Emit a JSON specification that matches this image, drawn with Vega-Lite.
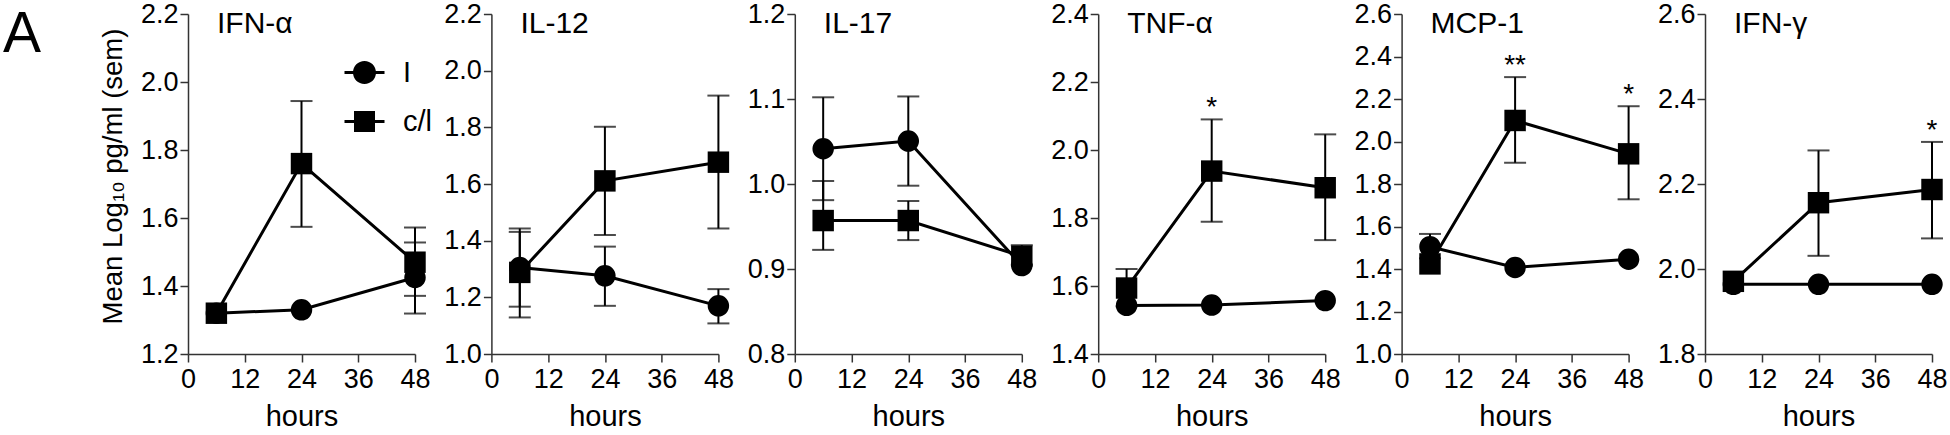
{
"$schema":"https://vega.github.io/schema/vega-lite/v6.json",
"autosize":{"type":"pad"},
"padding":{"left":3,"top":0,"right":0,"bottom":0},
"bounds":"flush",
"spacing":76.4,
"title":{"text":"A","anchor":"start","frame":"group","fontSize":57,"fontWeight":"normal","font":"Liberation Sans","color":"black","baseline":"alphabetic","offset":0,"dx":-185,"dy":109},
"data":{"values":[
{"cytokine":"IFN-α","group":"I","hours":6,"mean":1.32},
{"cytokine":"IFN-α","group":"I","hours":24,"mean":1.33},
{"cytokine":"IFN-α","group":"I","hours":48,"mean":1.425,"lo":1.319,"hi":1.528},
{"cytokine":"IFN-α","group":"c/l","hours":6,"mean":1.32},
{"cytokine":"IFN-α","group":"c/l","hours":24,"mean":1.76,"lo":1.574,"hi":1.944},
{"cytokine":"IFN-α","group":"c/l","hours":48,"mean":1.47,"lo":1.371,"hi":1.572},
{"cytokine":"IL-12","group":"I","hours":6,"mean":1.305,"lo":1.167,"hi":1.443},
{"cytokine":"IL-12","group":"I","hours":24,"mean":1.276,"lo":1.17,"hi":1.379},
{"cytokine":"IL-12","group":"I","hours":48,"mean":1.17,"lo":1.108,"hi":1.229},
{"cytokine":"IL-12","group":"c/l","hours":6,"mean":1.288,"lo":1.129,"hi":1.431},
{"cytokine":"IL-12","group":"c/l","hours":24,"mean":1.611,"lo":1.42,"hi":1.802},
{"cytokine":"IL-12","group":"c/l","hours":48,"mean":1.677,"lo":1.443,"hi":1.912},
{"cytokine":"IL-17","group":"I","hours":6,"mean":1.0415,"lo":0.981,"hi":1.102},
{"cytokine":"IL-17","group":"I","hours":24,"mean":1.0505,"lo":0.998,"hi":1.103},
{"cytokine":"IL-17","group":"I","hours":48,"mean":0.904},
{"cytokine":"IL-17","group":"c/l","hours":6,"mean":0.957,"lo":0.9225,"hi":1.0035},
{"cytokine":"IL-17","group":"c/l","hours":24,"mean":0.957,"lo":0.934,"hi":0.98},
{"cytokine":"IL-17","group":"c/l","hours":48,"mean":0.915,"lo":0.905,"hi":0.928},
{"cytokine":"TNF-α","group":"I","hours":6,"mean":1.543},
{"cytokine":"TNF-α","group":"I","hours":24,"mean":1.544},
{"cytokine":"TNF-α","group":"I","hours":48,"mean":1.557},
{"cytokine":"TNF-α","group":"c/l","hours":6,"mean":1.594,"lo":1.54,"hi":1.65},
{"cytokine":"TNF-α","group":"c/l","hours":24,"mean":1.938,"lo":1.789,"hi":2.09,"sig":"*"},
{"cytokine":"TNF-α","group":"c/l","hours":48,"mean":1.889,"lo":1.735,"hi":2.046},
{"cytokine":"MCP-1","group":"I","hours":6,"mean":1.505,"lo":1.45,"hi":1.565},
{"cytokine":"MCP-1","group":"I","hours":24,"mean":1.407},
{"cytokine":"MCP-1","group":"I","hours":48,"mean":1.446},
{"cytokine":"MCP-1","group":"c/l","hours":6,"mean":1.424},
{"cytokine":"MCP-1","group":"c/l","hours":24,"mean":2.099,"lo":1.9,"hi":2.303,"sig":"**"},
{"cytokine":"MCP-1","group":"c/l","hours":48,"mean":1.942,"lo":1.728,"hi":2.166,"sig":"*"},
{"cytokine":"IFN-γ","group":"I","hours":6,"mean":1.964},
{"cytokine":"IFN-γ","group":"I","hours":24,"mean":1.964},
{"cytokine":"IFN-γ","group":"I","hours":48,"mean":1.964},
{"cytokine":"IFN-γ","group":"c/l","hours":6,"mean":1.971},
{"cytokine":"IFN-γ","group":"c/l","hours":24,"mean":2.156,"lo":2.031,"hi":2.279},
{"cytokine":"IFN-γ","group":"c/l","hours":48,"mean":2.187,"lo":2.072,"hi":2.299,"sig":"*"}
]},
"resolve":{"scale":{"shape":"independent"},"legend":{"shape":"independent"}},
"hconcat":[
{"width":227,"height":340,
 "title":{"text":"IFN-α","anchor":"start","frame":"group","dx":29,"dy":41,"offset":-22,"fontSize":30,"fontWeight":"normal","font":"Liberation Sans","color":"black","baseline":"alphabetic"},
 "transform":[{"filter":"datum.cytokine === 'IFN-α'"}],
 "resolve":{"scale":{"shape":"independent"},"legend":{"shape":"independent"}},
 "encoding":{
  "x":{"field":"hours","type":"quantitative","scale":{"domain":[0,48],"nice":false},"axis":{"values":[0,12,24,36,48],"title":"hours"}},
  "y":{"field":"mean","type":"quantitative","scale":{"domain":[1.2,2.2],"nice":false,"zero":false},"axis":{"values":[1.2,1.4,1.6,1.8,2.0,2.2],"format":".1f","title":"Mean Log₁₀ pg/ml (sem)","titlePadding":13,"titleFontSize":27.5,"titleLimit":0,"titleY":162}}},
 "layer":[
  {"transform":[{"filter":"isValid(datum.lo)"}],"mark":{"type":"rule","color":"black","strokeWidth":2},"encoding":{"y":{"field":"lo","type":"quantitative"},"y2":{"field":"hi"}}},
  {"transform":[{"filter":"isValid(datum.lo)"},{"fold":["lo","hi"],"as":["end","val"]}],"mark":{"type":"tick","orient":"horizontal","color":"black","size":22,"thickness":2},"encoding":{"y":{"field":"val","type":"quantitative"}}},
  {"mark":{"type":"line","color":"black","strokeWidth":3},"encoding":{"detail":{"field":"group"}}},
  {"mark":{"type":"point","filled":true,"opacity":1,"color":"black","size":460,"strokeWidth":0},"encoding":{"shape":{"field":"group","type":"nominal","scale":{"domain":["I","c/l"],"range":["circle","square"]},"legend":null}}},
  {"mark":{"type":"point","filled":true,"color":"black","size":0,"strokeWidth":0},"encoding":{"shape":{"field":"group","type":"nominal","scale":{"domain":["I","c/l"],"range":["M-1.15,0A1.15,1.15,0,1,1,1.15,0A1.15,1.15,0,1,1,-1.15,0Z M-2,-0.15H2V0.15H-2Z","M-1.05,-1.05H1.05V1.05H-1.05Z M-2,-0.15H2V0.15H-2Z"]},
    "legend":{"orient":"none","legendX":162,"legendY":44,"title":null,"symbolSize":400,"labelFontSize":29,"labelColor":"black","labelOffset":24,"rowPadding":19,"padding":0,"symbolFillColor":"black","symbolStrokeColor":"black","symbolStrokeWidth":0,"symbolOpacity":1}}}},
  {"transform":[{"filter":"isValid(datum.sig)"}],"mark":{"type":"text","fontSize":28,"baseline":"alphabetic","dy":-3,"color":"black"},"encoding":{"y":{"field":"hi","type":"quantitative"},"text":{"field":"sig"}}}
 ]},
{"width":227,"height":340,
 "title":{"text":"IL-12","anchor":"start","frame":"group","dx":29,"dy":41,"offset":-22,"fontSize":30,"fontWeight":"normal","font":"Liberation Sans","color":"black","baseline":"alphabetic"},
 "transform":[{"filter":"datum.cytokine === 'IL-12'"}],
 "encoding":{
  "x":{"field":"hours","type":"quantitative","scale":{"domain":[0,48],"nice":false},"axis":{"values":[0,12,24,36,48],"title":"hours"}},
  "y":{"field":"mean","type":"quantitative","scale":{"domain":[1.0,2.2],"nice":false,"zero":false},"axis":{"values":[1.0,1.2,1.4,1.6,1.8,2.0,2.2],"format":".1f","title":null}}},
 "layer":[
  {"transform":[{"filter":"isValid(datum.lo)"}],"mark":{"type":"rule","color":"black","strokeWidth":2},"encoding":{"y":{"field":"lo","type":"quantitative"},"y2":{"field":"hi"}}},
  {"transform":[{"filter":"isValid(datum.lo)"},{"fold":["lo","hi"],"as":["end","val"]}],"mark":{"type":"tick","orient":"horizontal","color":"black","size":22,"thickness":2},"encoding":{"y":{"field":"val","type":"quantitative"}}},
  {"mark":{"type":"line","color":"black","strokeWidth":3},"encoding":{"detail":{"field":"group"}}},
  {"mark":{"type":"point","filled":true,"opacity":1,"color":"black","size":460,"strokeWidth":0},"encoding":{"shape":{"field":"group","type":"nominal","scale":{"domain":["I","c/l"],"range":["circle","square"]},"legend":null}}},
  {"transform":[{"filter":"isValid(datum.sig)"}],"mark":{"type":"text","fontSize":28,"baseline":"alphabetic","dy":-3,"color":"black"},"encoding":{"y":{"field":"hi","type":"quantitative"},"text":{"field":"sig"}}}
 ]},
{"width":227,"height":340,
 "title":{"text":"IL-17","anchor":"start","frame":"group","dx":29,"dy":41,"offset":-22,"fontSize":30,"fontWeight":"normal","font":"Liberation Sans","color":"black","baseline":"alphabetic"},
 "transform":[{"filter":"datum.cytokine === 'IL-17'"}],
 "encoding":{
  "x":{"field":"hours","type":"quantitative","scale":{"domain":[0,48],"nice":false},"axis":{"values":[0,12,24,36,48],"title":"hours"}},
  "y":{"field":"mean","type":"quantitative","scale":{"domain":[0.8,1.2],"nice":false,"zero":false},"axis":{"values":[0.8,0.9,1.0,1.1,1.2],"format":".1f","title":null}}},
 "layer":[
  {"transform":[{"filter":"isValid(datum.lo)"}],"mark":{"type":"rule","color":"black","strokeWidth":2},"encoding":{"y":{"field":"lo","type":"quantitative"},"y2":{"field":"hi"}}},
  {"transform":[{"filter":"isValid(datum.lo)"},{"fold":["lo","hi"],"as":["end","val"]}],"mark":{"type":"tick","orient":"horizontal","color":"black","size":22,"thickness":2},"encoding":{"y":{"field":"val","type":"quantitative"}}},
  {"mark":{"type":"line","color":"black","strokeWidth":3},"encoding":{"detail":{"field":"group"}}},
  {"mark":{"type":"point","filled":true,"opacity":1,"color":"black","size":460,"strokeWidth":0},"encoding":{"shape":{"field":"group","type":"nominal","scale":{"domain":["I","c/l"],"range":["circle","square"]},"legend":null}}},
  {"transform":[{"filter":"isValid(datum.sig)"}],"mark":{"type":"text","fontSize":28,"baseline":"alphabetic","dy":-3,"color":"black"},"encoding":{"y":{"field":"hi","type":"quantitative"},"text":{"field":"sig"}}}
 ]},
{"width":227,"height":340,
 "title":{"text":"TNF-α","anchor":"start","frame":"group","dx":29,"dy":41,"offset":-22,"fontSize":30,"fontWeight":"normal","font":"Liberation Sans","color":"black","baseline":"alphabetic"},
 "transform":[{"filter":"datum.cytokine === 'TNF-α'"}],
 "encoding":{
  "x":{"field":"hours","type":"quantitative","scale":{"domain":[0,48],"nice":false},"axis":{"values":[0,12,24,36,48],"title":"hours"}},
  "y":{"field":"mean","type":"quantitative","scale":{"domain":[1.4,2.4],"nice":false,"zero":false},"axis":{"values":[1.4,1.6,1.8,2.0,2.2,2.4],"format":".1f","title":null}}},
 "layer":[
  {"transform":[{"filter":"isValid(datum.lo)"}],"mark":{"type":"rule","color":"black","strokeWidth":2},"encoding":{"y":{"field":"lo","type":"quantitative"},"y2":{"field":"hi"}}},
  {"transform":[{"filter":"isValid(datum.lo)"},{"fold":["lo","hi"],"as":["end","val"]}],"mark":{"type":"tick","orient":"horizontal","color":"black","size":22,"thickness":2},"encoding":{"y":{"field":"val","type":"quantitative"}}},
  {"mark":{"type":"line","color":"black","strokeWidth":3},"encoding":{"detail":{"field":"group"}}},
  {"mark":{"type":"point","filled":true,"opacity":1,"color":"black","size":460,"strokeWidth":0},"encoding":{"shape":{"field":"group","type":"nominal","scale":{"domain":["I","c/l"],"range":["circle","square"]},"legend":null}}},
  {"transform":[{"filter":"isValid(datum.sig)"}],"mark":{"type":"text","fontSize":28,"baseline":"alphabetic","dy":-3,"color":"black"},"encoding":{"y":{"field":"hi","type":"quantitative"},"text":{"field":"sig"}}}
 ]},
{"width":227,"height":340,
 "title":{"text":"MCP-1","anchor":"start","frame":"group","dx":29,"dy":41,"offset":-22,"fontSize":30,"fontWeight":"normal","font":"Liberation Sans","color":"black","baseline":"alphabetic"},
 "transform":[{"filter":"datum.cytokine === 'MCP-1'"}],
 "encoding":{
  "x":{"field":"hours","type":"quantitative","scale":{"domain":[0,48],"nice":false},"axis":{"values":[0,12,24,36,48],"title":"hours"}},
  "y":{"field":"mean","type":"quantitative","scale":{"domain":[1.0,2.6],"nice":false,"zero":false},"axis":{"values":[1.0,1.2,1.4,1.6,1.8,2.0,2.2,2.4,2.6],"format":".1f","title":null}}},
 "layer":[
  {"transform":[{"filter":"isValid(datum.lo)"}],"mark":{"type":"rule","color":"black","strokeWidth":2},"encoding":{"y":{"field":"lo","type":"quantitative"},"y2":{"field":"hi"}}},
  {"transform":[{"filter":"isValid(datum.lo)"},{"fold":["lo","hi"],"as":["end","val"]}],"mark":{"type":"tick","orient":"horizontal","color":"black","size":22,"thickness":2},"encoding":{"y":{"field":"val","type":"quantitative"}}},
  {"mark":{"type":"line","color":"black","strokeWidth":3},"encoding":{"detail":{"field":"group"}}},
  {"mark":{"type":"point","filled":true,"opacity":1,"color":"black","size":460,"strokeWidth":0},"encoding":{"shape":{"field":"group","type":"nominal","scale":{"domain":["I","c/l"],"range":["circle","square"]},"legend":null}}},
  {"transform":[{"filter":"isValid(datum.sig)"}],"mark":{"type":"text","fontSize":28,"baseline":"alphabetic","dy":-3,"color":"black"},"encoding":{"y":{"field":"hi","type":"quantitative"},"text":{"field":"sig"}}}
 ]},
{"width":227,"height":340,
 "title":{"text":"IFN-γ","anchor":"start","frame":"group","dx":29,"dy":41,"offset":-22,"fontSize":30,"fontWeight":"normal","font":"Liberation Sans","color":"black","baseline":"alphabetic"},
 "transform":[{"filter":"datum.cytokine === 'IFN-γ'"}],
 "encoding":{
  "x":{"field":"hours","type":"quantitative","scale":{"domain":[0,48],"nice":false},"axis":{"values":[0,12,24,36,48],"title":"hours"}},
  "y":{"field":"mean","type":"quantitative","scale":{"domain":[1.8,2.6],"nice":false,"zero":false},"axis":{"values":[1.8,2.0,2.2,2.4,2.6],"format":".1f","title":null}}},
 "layer":[
  {"transform":[{"filter":"isValid(datum.lo)"}],"mark":{"type":"rule","color":"black","strokeWidth":2},"encoding":{"y":{"field":"lo","type":"quantitative"},"y2":{"field":"hi"}}},
  {"transform":[{"filter":"isValid(datum.lo)"},{"fold":["lo","hi"],"as":["end","val"]}],"mark":{"type":"tick","orient":"horizontal","color":"black","size":22,"thickness":2},"encoding":{"y":{"field":"val","type":"quantitative"}}},
  {"mark":{"type":"line","color":"black","strokeWidth":3},"encoding":{"detail":{"field":"group"}}},
  {"mark":{"type":"point","filled":true,"opacity":1,"color":"black","size":460,"strokeWidth":0},"encoding":{"shape":{"field":"group","type":"nominal","scale":{"domain":["I","c/l"],"range":["circle","square"]},"legend":null}}},
  {"transform":[{"filter":"isValid(datum.sig)"}],"mark":{"type":"text","fontSize":28,"baseline":"alphabetic","dy":-3,"color":"black"},"encoding":{"y":{"field":"hi","type":"quantitative"},"text":{"field":"sig"}}}
 ]}
],
"config":{
 "font":"Liberation Sans",
 "view":{"stroke":null},
 "axis":{"grid":false,"domainColor":"#333","domainWidth":1.5,"tickColor":"#333","tickWidth":1.5,"tickSize":8,"labelFontSize":27,"labelColor":"black","labelFont":"Liberation Sans","labelFlush":false,"labelOverlap":false,"titleFont":"Liberation Sans","titleFontSize":29,"titleFontWeight":"normal","titleColor":"black"},
 "axisX":{"labelPadding":4,"titlePadding":10},
 "axisY":{"labelPadding":2}
}
}
